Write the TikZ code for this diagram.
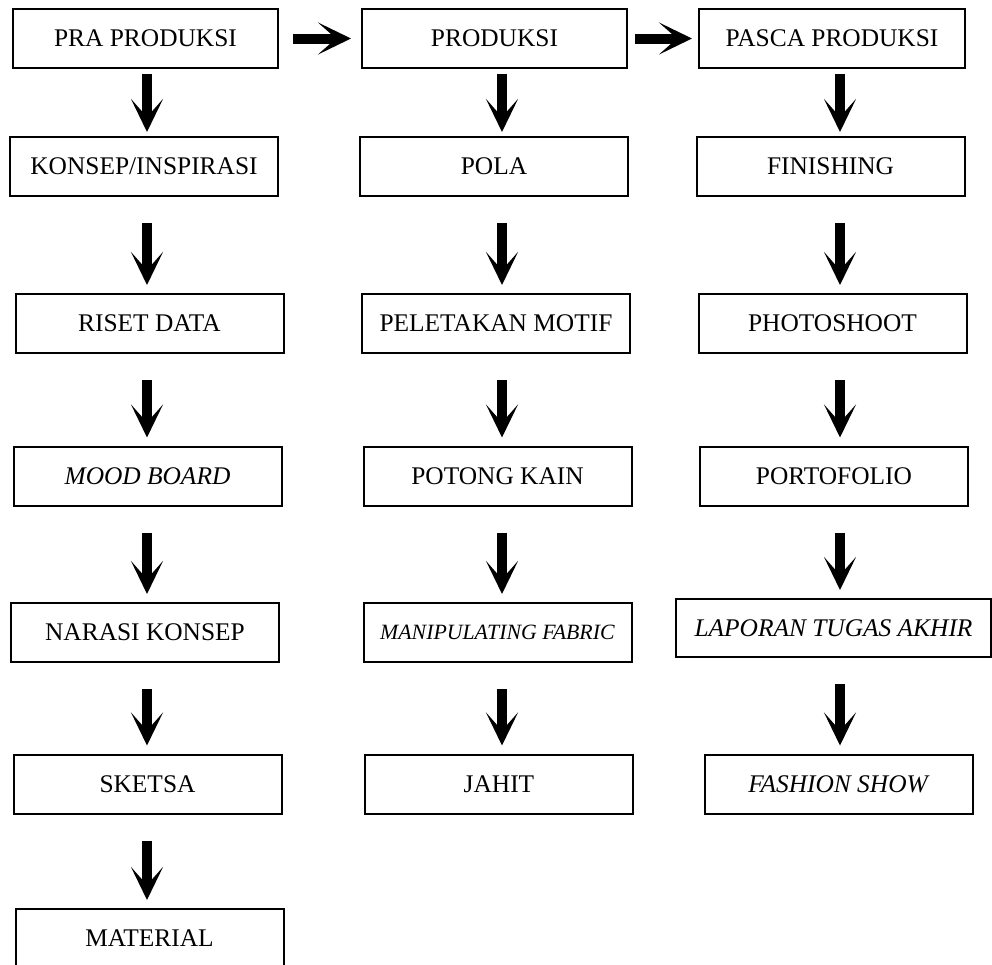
\documentclass[tikz,border=0pt]{standalone}
\usepackage{fontspec}
\setmainfont{Liberation Serif}
\usetikzlibrary{arrows.meta}

\begin{document}
\begin{tikzpicture}[x=0.5pt, y=-0.5pt,
    font=\fontsize{12.7}{15}\selectfont, >=Stealth,
    box/.style={draw, line width=1pt, minimum width=134pt, minimum height=29.5pt, inner sep=0pt},
    flow/.style={line width=5pt, -{Stealth[length=16.5pt, width=16pt, inset=9pt]}},
    gap/.style={shorten <=13pt, shorten >=4pt}]
  \useasboundingbox (0,0) rectangle (992,965);

  % --- Kolom 1: pra produksi ---
  \node[box, minimum width=132.5pt] (pra) at (145.5, 38.5) {PRA PRODUKSI};
  \node[box] (konsep)   at (144, 166.5)   {KONSEP/INSPIRASI};
  \node[box] (riset)    at (149.5, 323.5) {RISET DATA};
  \node[box] (mood)     at (147.5, 476)   {\textit{MOOD BOARD}};
  \node[box] (narasi)   at (145, 632.5)   {NARASI KONSEP};
  \node[box] (sketsa)   at (147.5, 784)   {SKETSA};
  \node[box] (material) at (149.5, 938.5) {MATERIAL};

  % --- Kolom 2: produksi ---
  \node[box, minimum width=132.5pt] (produksi) at (494.5, 38.5) {PRODUKSI};
  \node[box] (pola)   at (494, 166.5)   {POLA};
  \node[box] (motif)  at (496, 323.5)   {PELETAKAN MOTIF};
  \node[box] (potong) at (497.5, 476)   {POTONG KAIN};
  \node[box, font=\fontsize{10.9}{13}\selectfont] (manip) at (497.5, 632.5) {\textit{MANIPULATING FABRIC}};
  \node[box] (jahit)  at (499, 784)     {JAHIT};

  % --- Kolom 3: pasca produksi ---
  \node[box, minimum width=133pt] (pasca) at (832, 38.5) {PASCA PRODUKSI};
  \node[box] (finishing) at (830.5, 166.5) {FINISHING};
  \node[box] (photo)     at (832.5, 323.5) {PHOTOSHOOT};
  \node[box] (porto)     at (834, 476)     {PORTOFOLIO};
  \node[box, minimum width=157.5pt, minimum height=29pt] (laporan) at (833.5, 628) {\textit{LAPORAN TUGAS AKHIR}};
  \node[box] (fashion)   at (839, 784)     {\textit{FASHION SHOW}};

  % Garis panah tiap kolom
  \coordinate (lineA) at (147, 0);
  \coordinate (lineB) at (502, 0);
  \coordinate (lineC) at (840, 0);

  % --- Panah antar tahap ---
  \draw[flow, shorten <=7pt, shorten >=5pt] (pra.east) -- (produksi.west);
  \draw[flow, shorten <=3.5pt, shorten >=3pt] (produksi.east) -- (pasca.west);

  % --- Panah ke bawah ---
  \draw[flow, shorten <=2.5pt, shorten >=2pt] (pra.south -| lineA) -- (konsep.north -| lineA);
  \draw[flow, shorten <=2.5pt, shorten >=2pt] (produksi.south -| lineB) -- (pola.north -| lineB);
  \draw[flow, shorten <=2.5pt, shorten >=2pt] (pasca.south -| lineC) -- (finishing.north -| lineC);

  \foreach \a/\b in {konsep/riset, riset/mood, mood/narasi, narasi/sketsa, sketsa/material}{
      \draw[flow, gap] (\a.south -| lineA) -- (\b.north -| lineA);
    }
  \foreach \a/\b in {pola/motif, motif/potong, potong/manip, manip/jahit}{
      \draw[flow, gap] (\a.south -| lineB) -- (\b.north -| lineB);
    }
  \foreach \a/\b in {finishing/photo, photo/porto, porto/laporan, laporan/fashion}{
      \draw[flow, gap] (\a.south -| lineC) -- (\b.north -| lineC);
    }
\end{tikzpicture}
\end{document}
